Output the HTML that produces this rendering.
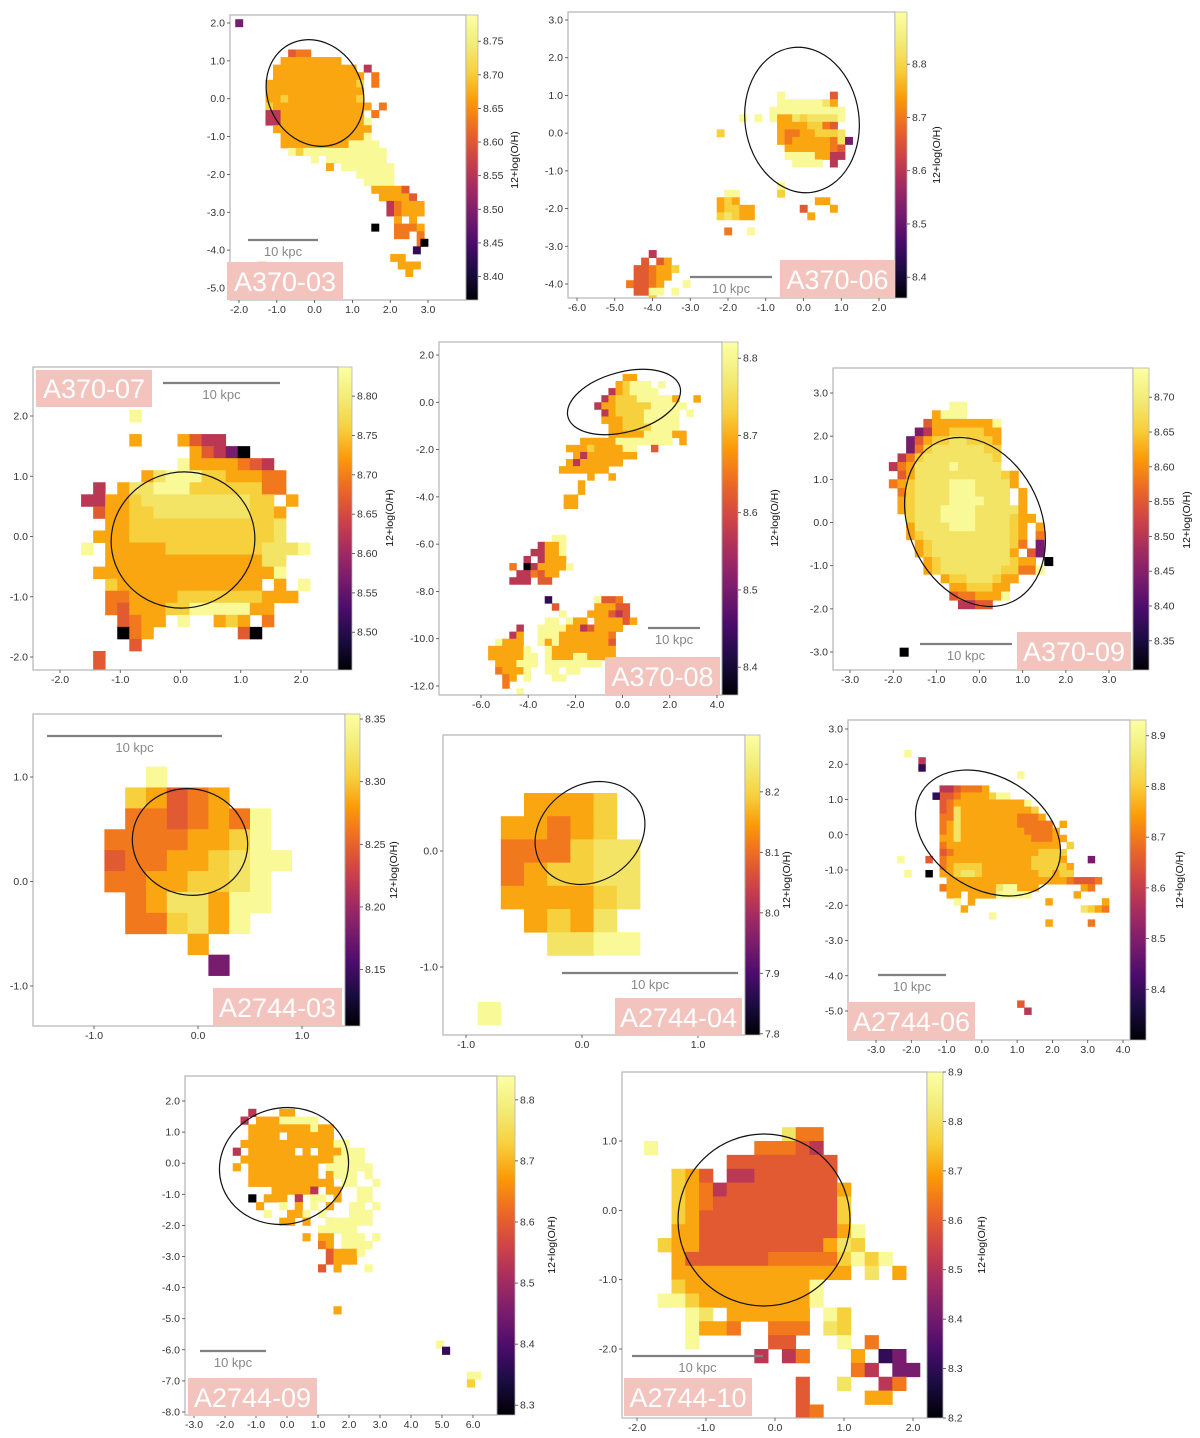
<!DOCTYPE html>
<html><head><meta charset="utf-8"><title>Metallicity maps</title>
<style>
html,body{margin:0;padding:0;background:#fff;}
svg{display:block;font-family:"Liberation Sans",sans-serif;}
</style></head>
<body>
<svg id="fig" width="1200" height="1438" viewBox="0 0 1200 1438" xmlns="http://www.w3.org/2000/svg">
<defs id="defs">
<linearGradient id="inferno" x1="0" y1="1" x2="0" y2="0">
<stop offset="0" stop-color="#000004"/><stop offset="0.1" stop-color="#1b0c41"/><stop offset="0.2" stop-color="#4a0c6b"/><stop offset="0.3" stop-color="#781c6d"/><stop offset="0.4" stop-color="#a52c60"/><stop offset="0.5" stop-color="#cf4446"/><stop offset="0.6" stop-color="#ed6925"/><stop offset="0.7" stop-color="#fb9b06"/><stop offset="0.8" stop-color="#f7d13d"/><stop offset="0.9" stop-color="#f2ec78"/><stop offset="1" stop-color="#fcffa4"/>
</linearGradient>
</defs>
</svg>
<script>
// digit level -> colormap position
const levelFrac = [0.0, 0.15, 0.3, 0.45, 0.56, 0.63, 0.72, 0.8, 0.87, 0.97];

// ---------- per-panel pixel-map data (digit = metallicity level, '.' = no data) ----------
const p1Rows = ["...455","..66666666",".66666666666.3",".666666666666.5","6666666666667.5","6666666666666","6676666666667","76666666666666.5","3366666666666.5","33666666666669",".6666666666666","..666666666669","..6666666669999","...9799999999999","......9.99999999","........6.9999999","............99999",".............9999","..............66664","...............66664","................35666","................35666",".................6.6",".................5556",".................55.5","....................5"];
const p1Extra = ["66.",".666","..6"];
const p1Dots = [[1.5,-3.3,0],[2.8,-3.7,0],[2.6,-3.9,1],[-2.1,2.1,2],[-1.5,-4.3,7]];

const p2Rows = [".9......4.",".99999986.","9999999999","9668788889",".66667754.",".655667778.",".6566666582","..66666654.","..99996633.","...9999.3.."];
const p2RowsB = [".99..","676..","67766","78766"];
const p2RowsC = ["...3...","..4.46.",".445667",".44566.","54456..",".4499.9","...7..."];
const p2Dots = [[-0.7,-1.3,9],[-0.7,-1.5,7],[0.3,-1.7,6],[0.5,-1.7,6],[-0.1,-1.9,4],[0.1,-2.1,6],[0.7,-1.9,6],[-1.7,0.5,9],[-1.3,0.5,9],[-2.3,0.1,7],[-2.1,-2.5,5],[-1.5,-2.5,9],[-3.2,-3.9,9]];

const p3Rows = ["....9",".................","....6...6433",".........64320","........96666543",".....689997766655",".3.68899977777755","3366788888888877.6",".4667788888888776","..667777777777778",".6667777777777778","9.66666777777778889","..666666666666688",".6666666666666669","..7666666666666.6.9","..5566667777777666","..54666779999966","...4566.9..676.5","...056.......40","....4",".4",".4"];

const p4RowsA = ["......66.......",".....67999.9...","....3679999.....","...36777999996..6","..3667777799999","...36777799999.9","...66677799999","....6677779999.","....66666999966","..7.666999999.6"];
const p4RowsB = ["...666669999..",".6667666699..4","..636666666...",".63666666.....","6666666.......","....6..6......"];
const p4RowsC = ["..6","..6","66.","66."];
const p4RowsD = ["......99","....3669","...33669.","..3.3666.","5.0366669",".335466..","333.44..."];
const p4RowsE = ["..........1......9445...","...........4.....66644..","............9...666434..","..........99.966.666646.","......3..999966346666...",".....36..99966666665....","...9666..96966666664.....","..666669..9666666666.....","..6666699.9666996666.....","...666999.99999999......","...56669..99.99.........9","....56.9...99..........","....5...................","......9................."];

const p5Rows = ["........99","......6999",".....466666669","....2366777766","...24677887776","...25788888877","..357888888887",".3568888988888","..46888888888876",".567888899988886","..5788889998888.6","..6788889999888.6","..678889999888886","...788899998888766","...68888999888876.6","...67888888888876.5","....6788888888875.2","....678888888886.42",".....6788888888766.0",".....67888888877559",".......677888766","........6677766","........4556669",".........3344"];
const p5Dots = [[-1.85,-2.9,0]];

const p6Rows = ["..9",".76456",".5545659","55556679","455667899","55667789",".5688699",".557869","....6",".....2"];

const p7Rows = [".6667","66567","555788","567788","666678",".6768","..8899"];
const p7Dots = [[-0.9,-1.3,9]];

const p8Rows = ["3345556","4456666799","4566666666669","45866666666667","558666666665556","5686666666655555","56866666666655556","668666666666655566","56666666666666666.7","456666666666667777","566666666666677776","5677776666666777776","6678876666666677677",".6666666666666666654445","56666666899666......65",".66.666699999......6","..9.6..........6","...6"];
const p8Dots = [[-2.2,2.4,9],[-1.8,2.2,3],[-1.8,2.0,1],[1.0,1.8,9],[-1.6,-0.6,4],[-1.6,-1.0,0],[-1.4,1.2,1],[-2.4,-0.6,9],[-2.2,-1.0,9],[3.0,-0.6,2],[2.2,0.4,6],[1.8,-2.4,6],[3.0,-2.4,5],[2.8,-2.0,8],[3.0,-2.0,7],[3.2,-2.0,6],[3.4,-2.0,5],[3.4,-1.8,6],[1.0,-4.7,4],[1.2,-4.9,3],[0.2,-2.2,9]];

const p9Rows = ["...3...66","..3.66699999","...66666666966","...6666.666666","..66666666666699",".3.666666.6.666999","..6666666666669999",".6.666666666.999999","...666666666.6999.9","...66666666666.99..9","......666663.66..99","...0.666.3.99.6..99","....6..9.6.9.6..99.9",".....9..669.9...999",".......66.6..6..999"];
const p9Tail = ["...9999.9....","..99999......","6.66.999.9...","..56.9999....","...46669.....","...4666......","..4.6...9...."];
const p9Dots = [[1.5,-4.6,6],[4.8,-5.7,9],[5.0,-5.9,1],[5.8,-6.7,9],[6.0,-6.7,9],[5.8,-6.95,7]];

const p10Rows = ["..........855","9.......55543","......44444444","..764.33444444","..7653444444446","..7654444444447","..7644444444447","..66444444444469",".766444444444687","..6444444555557979","..6666666666666.8.6","..76666666669",".997666666669","...98.666666.97","...9665..555.87","...9.....44...9.5","........3.35...6.12","...............53.22","...........4..8..35","...........4....66","...........45","............54"];

// ---------- panel configuration ----------
const panels = [
 {id:"a370-03", fr:[230,15,466,300], cb:[466,478], xa:[-2,239,3,428], ya:[2,23,-5,288], xt:[-2,-1,0,1,2,3], yt:[2,1,0,-1,-2,-3,-4,-5],
  cbv:[8.789,8.365], cbt:[8.75,8.70,8.65,8.60,8.55,8.50,8.45,8.40], cbd:2, cs:0.2,
  grids:[{x0:-1.3,y0:1.3,rows:p1Rows},{x0:2.0,y0:-4.1,rows:p1Extra}], dots:p1Dots,
  ell:[315,93,47,55,-28], lab:[227,262,116,38,"A370-03"], bar:[248,318,240], cbl:[518,160]},
 {id:"a370-06", fr:[568,12,895,298], cb:[895,907], xa:[-6,577,2,879], ya:[3,20,-4,284], xt:[-6,-5,-4,-3,-2,-1,0,1,2], yt:[3,2,1,0,-1,-2,-3,-4],
  cbv:[8.898,8.361], cbt:[8.8,8.7,8.6,8.5,8.4], cbd:1, cs:0.2,
  grids:[{x0:-0.9,y0:1.1,rows:p2Rows},{x0:-2.3,y0:-1.5,rows:p2RowsB},{x0:-4.7,y0:-3.1,rows:p2RowsC}], dots:p2Dots,
  ell:[802,120,57,73,-8], lab:[780,260,115,38,"A370-06"], bar:[690,772,277], cbl:[940,155]},
 {id:"a370-07", fr:[33,367,338,670], cb:[338,352], xa:[-2,60,2,301], ya:[2,416,-2,657], xt:[-2,-1,0,1,2], yt:[2,1,0,-1,-2],
  cbv:[8.837,8.452], cbt:[8.80,8.75,8.70,8.65,8.60,8.55,8.50], cbd:2, cs:0.2,
  grids:[{x0:-1.65,y0:2.1,rows:p3Rows}], dots:[],
  ell:[183,540,72,68,-10], lab:[36,370,116,37,"A370-07"], bar:[163,280,383], cbl:[393,518]},
 {id:"a370-08", fr:[439,342,722,695], cb:[722,738], xa:[-6,481,4,717], ya:[2,355,-12,686], xt:[-6,-4,-2,0,2,4], yt:[2,0,-2,-4,-6,-8,-10,-12],
  cbv:[8.821,8.364], cbt:[8.8,8.7,8.6,8.5,8.4], cbd:1, cs:0.3,
  grids:[{x0:-1.8,y0:1.2,rows:p4RowsA},{x0:-2.7,y0:-1.5,rows:p4RowsB},{x0:-2.5,y0:-3.3,rows:p4RowsC},{x0:-4.8,y0:-5.6,rows:p4RowsD},{x0:-6.3,y0:-8.2,rows:p4RowsE}], dots:[],
  ell:[624,402,58,30,-15], lab:[605,657,115,38,"A370-08"], bar:[648,700,628], cbl:[778,518]},
 {id:"a370-09", fr:[833,368,1133,670], cb:[1133,1149], xa:[-3,850,3,1109], ya:[3,393,-3,652], xt:[-3,-2,-1,0,1,2,3], yt:[3,2,1,0,-1,-2,-3],
  cbv:[8.742,8.308], cbt:[8.70,8.65,8.60,8.55,8.50,8.45,8.40,8.35], cbd:2, cs:0.2,
  grids:[{x0:-2.3,y0:2.8,rows:p5Rows}], dots:p5Dots,
  ell:[975,522,66,88,-25], lab:[1017,632,114,38,"A370-09"], bar:[920,1012,644], cbl:[1190,520]},
 {id:"a2744-03", fr:[33,714,345,1026], cb:[345,360], xa:[-1,94,1,302], ya:[1,777,-1,986], xt:[-1,0,1], yt:[1,0,-1],
  cbv:[8.354,8.105], cbt:[8.35,8.30,8.25,8.20,8.15], cbd:2, cs:0.2,
  grids:[{x0:-0.9,y0:1.1,rows:p6Rows}], dots:[],
  ell:[190,842,58,53,15], lab:[213,988,129,38,"A2744-03"], bar:[47,222,736], cbl:[397,870]},
 {id:"a2744-04", fr:[443,735,745,1035], cb:[745,760], xa:[-1,466,1,698], ya:[0,851,-1,967], xt:[-1,0,1], yt:[0,-1],
  cbv:[8.294,7.798], cbt:[8.2,8.1,8.0,7.9,7.8], cbd:1, cs:0.2,
  grids:[{x0:-0.7,y0:0.5,rows:p7Rows}], dots:p7Dots,
  ell:[590,833,58,48,-35], lab:[615,998,127,38,"A2744-04"], bar:[562,738,973], cbl:[790,880]},
 {id:"a2744-06", fr:[848,720,1130,1040], cb:[1130,1146], xa:[-3,876,4,1123], ya:[3,729,-5,1011], xt:[-3,-2,-1,0,1,2,3,4], yt:[3,2,1,0,-1,-2,-3,-4,-5],
  cbv:[8.931,8.30], cbt:[8.9,8.8,8.7,8.6,8.5,8.4], cbd:1, cs:0.2,
  grids:[{x0:-1.2,y0:1.4,rows:p8Rows}], dots:p8Dots,
  ell:[988,833,78,56,32], lab:[848,1002,127,38,"A2744-06"], bar:[878,946,975], cbl:[1183,880]},
 {id:"a2744-09", fr:[185,1076,497,1415], cb:[497,515], xa:[-3,194,6,473], ya:[2,1101,-8,1412], xt:[-3,-2,-1,0,1,2,3,4,5,6], yt:[2,1,0,-1,-2,-3,-4,-5,-6,-7,-8],
  cbv:[8.839,8.284], cbt:[8.8,8.7,8.6,8.5,8.4,8.3], cbd:1, cs:0.25,
  grids:[{x0:-2.0,y0:1.75,rows:p9Rows},{x0:0.5,y0:-1.75,rows:p9Tail}], dots:p9Dots,
  ell:[284,1166,65,58,-15], lab:[188,1378,129,38,"A2744-09"], bar:[200,266,1351], cbl:[555,1245]},
 {id:"a2744-10", fr:[622,1072,927,1418], cb:[927,943], xa:[-2,637,2,913], ya:[1,1141,-2,1349], xt:[-2,-1,0,1,2], yt:[1,0,-1,-2],
  cbv:[8.9,8.2], cbt:[8.9,8.8,8.7,8.6,8.5,8.4,8.3,8.2], cbd:1, cs:0.2,
  grids:[{x0:-1.9,y0:1.2,rows:p10Rows}], dots:[],
  ell:[764,1220,86,86,0], lab:[624,1378,128,38,"A2744-10"], bar:[632,763,1356], cbl:[985,1245]}
];

// ---------- rendering ----------
const NS = "http://www.w3.org/2000/svg";
const svg = document.getElementById("fig");
const defs = document.getElementById("defs");
const stops = [[0,[0,0,4]],[0.1,[27,12,65]],[0.2,[74,12,107]],[0.3,[120,28,109]],[0.4,[165,44,96]],[0.5,[207,68,70]],[0.6,[237,105,37]],[0.7,[251,155,6]],[0.8,[247,209,61]],[0.9,[242,236,120]],[1,[252,255,164]]];
function inferno(t){
  t=Math.max(0,Math.min(1,t));
  for(let i=1;i<stops.length;i++){
    if(t<=stops[i][0]){
      const a=stops[i-1],b=stops[i],f=(t-a[0])/(b[0]-a[0]);
      const c=a[1].map((v,k)=>Math.round(v+(b[1][k]-v)*f));
      return "rgb("+c.join(",")+")";
    }
  }
  return "rgb(252,255,164)";
}
function mk(tag, attrs, parent){
  const e=document.createElementNS(NS,tag);
  for(const k in attrs) e.setAttribute(k,attrs[k]);
  (parent||svg).appendChild(e);
  return e;
}
panels.forEach(p=>{
  const g=mk("g",{});
  
  
  const sx=(p.xa[3]-p.xa[1])/(p.xa[2]-p.xa[0]);
  const sy=(p.ya[3]-p.ya[1])/(p.ya[2]-p.ya[0]);
  const X=v=>p.xa[1]+(v-p.xa[0])*sx;
  const Y=v=>p.ya[1]+(v-p.ya[0])*sy;
  const [l,t,r,b]=p.fr;
  const cp=mk("clipPath",{id:"clip-"+p.id},defs);
  mk("rect",{x:l,y:t,width:r-l,height:b-t},cp);
  const cg=mk("g",{"clip-path":"url(#clip-"+p.id+")"},g);
  
  
  const cell=(x,y,d)=>{
    const x1=X(x),x2=X(x+p.cs),y1=Y(y),y2=Y(y-p.cs);
    const rc=mk("rect",{x:x1.toFixed(2),y:y1.toFixed(2),width:(x2-x1+0.4).toFixed(2),height:(y2-y1+0.4).toFixed(2),fill:inferno(levelFrac[d])},cg);
    
    
  };
  p.grids.forEach(gr=>{
    gr.rows.forEach((row,ri)=>{
      for(let ci=0;ci<row.length;ci++){
        const ch=row[ci];
        if(ch>="0"&&ch<="9") cell(gr.x0+ci*p.cs, gr.y0-ri*p.cs, +ch);
      }
    });
  });
  p.dots.forEach(d=>cell(d[0],d[1],d[2]));
  const fr=mk("rect",{x:l,y:t,width:r-l,height:b-t,fill:"none",stroke:"#b5b5b5","stroke-width":1.2},g);
  
  
  const e=p.ell;
  const el=mk("ellipse",{cx:e[0],cy:e[1],rx:e[2],ry:e[3],transform:`rotate(${e[4]} ${e[0]} ${e[1]})`,fill:"none",stroke:"#111","stroke-width":1.2},g);
  
  
  p.xt.forEach(v=>{
    const x=X(v);
    mk("line",{x1:x,y1:b,x2:x,y2:b+3,stroke:"#444","stroke-width":0.8},g);
    const tx=mk("text",{x:x,y:b+13,"font-size":10.5,"text-anchor":"middle",fill:"#333"},g);
    tx.textContent=v.toFixed(1);
    
    
  });
  p.yt.forEach(v=>{
    const y=Y(v);
    mk("line",{x1:l-3,y1:y,x2:l,y2:y,stroke:"#444","stroke-width":0.8},g);
    const ty=mk("text",{x:l-5,y:y+3.5,"font-size":10.5,"text-anchor":"end",fill:"#333"},g);
    ty.textContent=v.toFixed(1);
    
    
  });
  const [cl,cr]=p.cb;
  const cbr=mk("rect",{x:cl,y:t,width:cr-cl,height:b-t,fill:"url(#inferno)",stroke:"#b5b5b5","stroke-width":0.8},g);
  
  
  const CY=v=>t+(p.cbv[0]-v)/(p.cbv[0]-p.cbv[1])*(b-t);
  p.cbt.forEach(v=>{
    const y=CY(v);
    mk("line",{x1:cr,y1:y,x2:cr+3,y2:y,stroke:"#444","stroke-width":0.8},g);
    const ct=mk("text",{x:cr+5,y:y+3.5,"font-size":10.5,fill:"#333"},g);
    ct.textContent=v.toFixed(p.cbd);
    
    
  });
  const cl2=mk("text",{x:p.cbl[0],y:p.cbl[1],"font-size":10.5,"text-anchor":"middle",fill:"#111",transform:`rotate(-90 ${p.cbl[0]} ${p.cbl[1]})`},g);
  cl2.textContent="12+log(O/H)";
  
  
  const sb=mk("line",{x1:p.bar[0],y1:p.bar[2],x2:p.bar[1],y2:p.bar[2],stroke:"#808080","stroke-width":2.2},g);
  
  
  const st=mk("text",{x:(p.bar[0]+p.bar[1])/2,y:p.bar[2]+16,"font-size":13,"text-anchor":"middle",fill:"#888"},g);
  st.textContent="10 kpc";
  
  
  const lb=p.lab;
  const lr=mk("rect",{x:lb[0],y:lb[1],width:lb[2],height:lb[3],fill:"#f3c3bd"},g);
  
  
  const lt=mk("text",{x:lb[0]+lb[2]/2,y:lb[1]+lb[3]-9,"font-size":27,"text-anchor":"middle",fill:"#fff"},g);
  lt.textContent=lb[4];
  
  
});
</script>
</body></html>
